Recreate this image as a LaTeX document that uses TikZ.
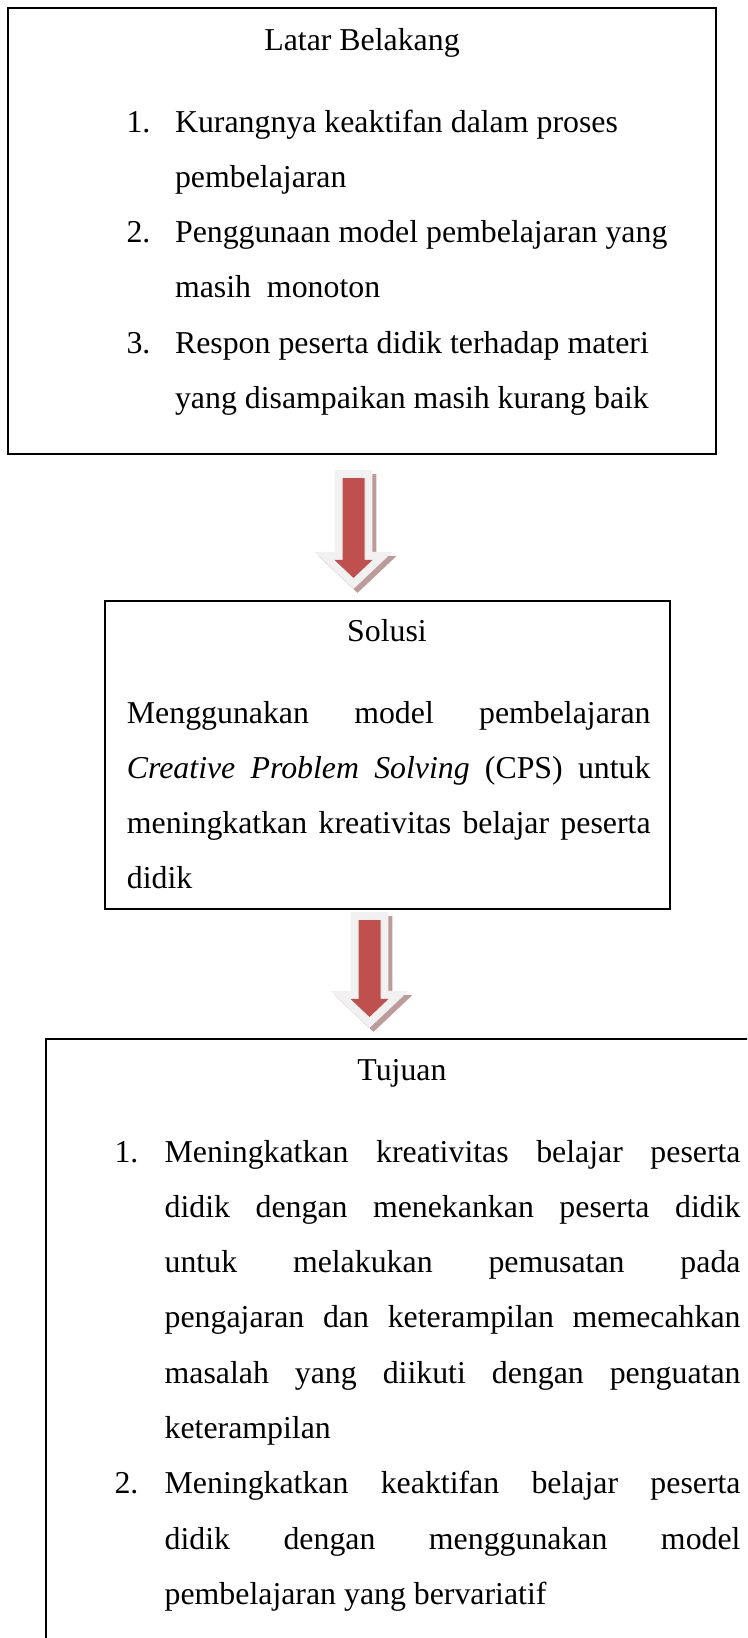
\documentclass[tikz,border=0pt]{standalone}
\usepackage{fontspec}
\setmainfont{Liberation Serif}
\usetikzlibrary{calc,fit,positioning}

\definecolor{arrowred}{RGB}{192,80,77}
\definecolor{arrowglow}{RGB}{241,241,241}
\definecolor{arrowshade}{RGB}{190,155,155}

% numbered item with hanging indent
\newcommand{\numitem}[3]{\hangindent=#1\hangafter=1\noindent\makebox[#1][l]{#2}#3\par}

% outline of a block arrow from #1 (top of shaft) to #2 (tip), shifted by (#3,#4)
\newcommand{\arrowshape}[4]{($(#1)+(#3-11,#4)$) -- ($(#1)+(#3+11,#4)$) -- ($(#2)+(#3+11,#4-18)$)
  -- ($(#2)+(#3+19,#4-18)$) -- ($(#2)+(#3,#4)$) -- ($(#2)+(#3-19,#4-18)$) -- ($(#2)+(#3-11,#4-18)$) -- cycle}
\newcommand{\blockarrow}[2]{%
  \filldraw[arrowshade, line width=6pt, line join=miter] \arrowshape{#1}{#2}{4}{4};
  \filldraw[arrowglow, line width=6pt, line join=miter] \arrowshape{#1}{#2}{0}{0};
  \fill[arrowred] \arrowshape{#1}{#2}{0}{0};}

\begin{document}
\begin{tikzpicture}[x=0.377pt,y=-0.377pt,
  box/.style={draw=black, line width=0.8pt, inner sep=0pt},
  titletext/.style={font=\fontsize{12}{20.85}\selectfont, inner sep=0pt, anchor=base},
  bodytext/.style={font=\fontsize{12}{20.85}\selectfont, inner sep=0pt, anchor=base west, align=left}]
  \useasboundingbox (0,0) rectangle (747,1638);
  \clip (0,0) rectangle (747,1638);

  % Boxes
  \node[box, fit={(8.3,7.7) (715.7,453.7)}] (latar) {};
  \node[box, fit={(105,601) (670,909)}] (solusi) {};
  \node[box, fit={(46,1039) (758,1680)}] (tujuan) {};

  % Latar Belakang
  \node[titletext] (latarT) at (362,50) {Latar Belakang};
  \node[bodytext] (latarL) at (126,132) {\parbox[t]{250pt}{\raggedright
    \numitem{18.3pt}{1.}{Kurangnya keaktifan dalam proses\newline pembelajaran}
    \numitem{18.3pt}{2.}{Penggunaan model pembelajaran yang\newline masih\ \ monoton}
    \numitem{18.3pt}{3.}{Respon peserta didik terhadap materi\newline yang disampaikan masih kurang baik}}};

  % Solusi
  \node[titletext] (solusiT) at (387,641) {Solusi};
  \node[bodytext] (solusiL) at (126.4,723) {\parbox[t]{197.4pt}{%
    Menggunakan model pembelajaran\linebreak
    \textit{Creative Problem Solving} (CPS) untuk\linebreak
    meningkatkan kreativitas belajar peserta\linebreak
    didik}};

  % Tujuan
  \node[titletext] (tujuanT) at (402,1080) {Tujuan};
  \node[bodytext] (tujuanL) at (114,1162) {\parbox[t]{236pt}{%
    \numitem{18.9pt}{1.}{Meningkatkan kreativitas belajar peserta\linebreak
      didik dengan menekankan peserta didik\linebreak
      untuk melakukan pemusatan pada\linebreak
      pengajaran dan keterampilan memecahkan\linebreak
      masalah yang diikuti dengan penguatan\linebreak
      keterampilan}
    \numitem{18.9pt}{2.}{Meningkatkan keaktifan belajar peserta\linebreak
      didik dengan menggunakan model\linebreak
      pembelajaran yang bervariatif}}};

  % Arrows between the boxes
  \coordinate (arr1top) at ([shift={(-8.5,23.3)}]latar.south);
  \coordinate (arr1tip) at ([shift={(-8.5,-22)}]latar.south |- solusi.north);
  \coordinate (arr2top) at ([shift={(-18,10)}]solusi.south);
  \coordinate (arr2tip) at ([shift={(-18,-21)}]solusi.south |- tujuan.north);
  \blockarrow{arr1top}{arr1tip}
  \blockarrow{arr2top}{arr2tip}
\end{tikzpicture}
\end{document}
